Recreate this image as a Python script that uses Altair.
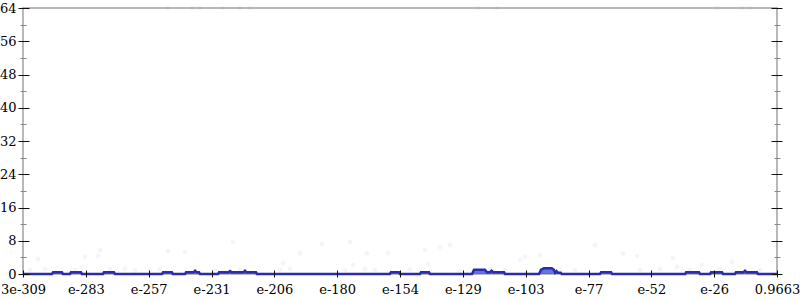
import json
import altair as alt
import pandas as pd

# ---- data (x in log10 units) ----
x_min = -308.52
x_max = -0.0149
tick_labels = ["3e-309", "e-283", "e-257", "e-231", "e-206", "e-180", "e-154",
               "e-129", "e-103", "e-77", "e-52", "e-26", "0.9663"]
y_major = [0, 8, 16, 24, 32, 40, 48, 56, 64]
y_minor = [4, 12, 20, 28, 36, 44, 52, 60]

line_x = [-308.52,
          -296.7, -296.2, -292.6, -292.2,
          -289.3, -288.9, -284.8, -284.4,
          -275.8, -275.4, -271.3, -270.9,
          -251.7, -251.2, -247.6, -247.2,
          -242.2, -241.8, -238.8, -238.1, -237.4, -236.5, -236.1,
          -228.7, -228.3, -224.5, -223.8, -223.1, -218.4, -217.7, -217.0, -213.2, -212.8,
          -158.4, -158.0, -154.7, -154.3,
          -146.1, -145.7, -142.4, -142.0,
          -124.8, -124.0, -119.5, -118.7, -117.6, -116.8, -116.0, -111.7, -111.3,
          -97.4, -96.6, -95.4, -92.2, -91.3, -90.8, -90.2, -89.6, -88.5, -88.1,
          -72.4, -72.0, -67.9, -67.5,
          -37.6, -37.2, -31.9, -31.5,
          -27.4, -27.0, -22.5, -22.1,
          -17.2, -16.8, -13.8, -13.1, -12.4, -8.2, -7.8,
          -0.0149]
line_y = [0,
          0, 0.4, 0.4, 0,
          0, 0.4, 0.4, 0,
          0, 0.4, 0.4, 0,
          0, 0.4, 0.4, 0,
          0, 0.4, 0.4, 0.8, 0.4, 0.4, 0,
          0, 0.4, 0.4, 0.7, 0.4, 0.4, 0.8, 0.4, 0.4, 0,
          0, 0.4, 0.4, 0,
          0, 0.4, 0.4, 0,
          0, 1.0, 1.0, 0.4, 0.4, 0.8, 0.4, 0.4, 0,
          0, 1.0, 1.4, 1.4, 1.0, 0.3, 0.7, 0.3, 0.3, 0,
          0, 0.4, 0.4, 0,
          0, 0.4, 0.4, 0,
          0, 0.4, 0.4, 0,
          0, 0.4, 0.4, 0.8, 0.4, 0.4, 0,
          0]

pts_x = [-302.4, -283.2, -277.8, -277.0, -249.2, -242.2, -222.6, -202.1, -195.2,
         -186.2, -174.7, -173.5, -167.8, -159.2, -144.0, -142.8, -137.9, -133.8,
         -105.2, -103.1, -97.0, -74.5, -63.0, -57.3, -42.6, -40.9, -30.7, -18.4,
         -305.7, -299.5, -287.2, -272.9, -266.8, -262.7, -256.6, -252.5, -230.0,
         -219.7, -203.4, -199.3, -176.8, -168.6, -164.5, -150.2, -129.7, -117.4,
         -111.3, -88.8, -82.7, -56.1, -47.9, -35.6, -23.4, -7.0,
         -249.2, -239.4, -236.1, -226.7, -219.7, -215.6, -122.4, -114.6, -24.6,
         -14.3, -11.0]
pts_y = [3.6, 4.1, 4.3, 5.8, 5.5, 5.3, 7.7, 2.6, 5.0,
         7.2, 7.7, 2.2, 5.0, 5.0, 5.8, 2.4, 6.5, 7.0,
         3.4, 4.1, 4.6, 7.0, 5.0, 4.3, 3.8, 1.7, 2.2, 2.9,
         1.0, 1.2, 0.9, 1.1, 1.3, 0.8, 1.0, 1.2, 0.9,
         1.1, 1.0, 1.3, 0.9, 1.2, 1.0, 1.1, 0.8, 1.2,
         1.0, 1.1, 0.9, 1.0, 1.2, 0.9, 1.1, 1.0,
         64, 64, 64, 64, 64, 64, 64, 64, 64,
         64, 64]

line_df = pd.DataFrame({"x": line_x, "y": line_y})
pts_df = pd.DataFrame({"x": pts_x, "y": pts_y})

step = (x_max - x_min) / (len(tick_labels) - 1)
tick_vals = [x_min + k * step for k in range(len(tick_labels))]
label_expr = (json.dumps(tick_labels) +
              f"[round((datum.value - ({x_min})) / {step})]")

FONT = "DejaVu Serif"
xscale = alt.Scale(domain=[x_min, x_max], nice=False, zero=False)
yscale = alt.Scale(domain=[0, 64], nice=False, zero=True)

def xaxis():
    return alt.Axis(values=tick_vals, labelExpr=label_expr, title=None,
                    domain=False, grid=False, offset=-4, tickSize=7,
                    tickColor="#111111", tickWidth=1, labelFont=FONT,
                    labelFontSize=13, labelColor="black", labelPadding=6,
                    labelFlush=False, labelOverlap=False, zindex=2)

def yaxis(orient, values, major):
    kw = dict(orient=orient, values=values, title=None, domain=False,
              grid=False, zindex=2, tickWidth=1)
    if major:
        kw.update(offset=-6, tickSize=11, tickColor="#111111",
                  labels=(orient == "left"), labelFont=FONT, labelFontSize=13,
                  labelColor="black", labelPadding=2)
    else:
        kw.update(offset=-3, tickSize=6, tickColor="#888888", labels=False)
    return alt.Axis(**kw)

area = alt.Chart(line_df).mark_area(color="#4a5ce0", opacity=0.85).encode(
    x=alt.X("x:Q", scale=xscale, axis=xaxis()),
    y=alt.Y("y:Q", scale=yscale, axis=yaxis("left", y_major, True)),
)
line = alt.Chart(line_df).mark_line(color="#2b2bb0", strokeWidth=2.5).encode(
    x=alt.X("x:Q", scale=xscale, axis=xaxis()),
    y=alt.Y("y:Q", scale=yscale, axis=yaxis("left", y_minor, False)),
)
pts = alt.Chart(pts_df).mark_circle(color="#5870e8", opacity=0.07, size=22).encode(
    x=alt.X("x:Q", scale=xscale, axis=xaxis()),
    y=alt.Y("y:Q", scale=yscale, axis=yaxis("right", y_major, True)),
)
pts2 = alt.Chart(pts_df).mark_circle(opacity=0, size=1).encode(
    x=alt.X("x:Q", scale=xscale, axis=xaxis()),
    y=alt.Y("y:Q", scale=yscale, axis=yaxis("right", y_minor, False)),
)

chart = alt.layer(area, pts, line, pts2).resolve_scale(
    y="shared", x="shared").resolve_axis(y="independent", x="shared").properties(
    width=754, height=266,
    autosize=alt.AutoSizeParams(type="none"),
    padding={"left": 23, "top": 8, "right": 23, "bottom": 26},
    background="white",
).configure_view(stroke="#b8b8b8", strokeWidth=2)

chart.save("out.html", embed_options={"renderer": "svg", "actions": False})
